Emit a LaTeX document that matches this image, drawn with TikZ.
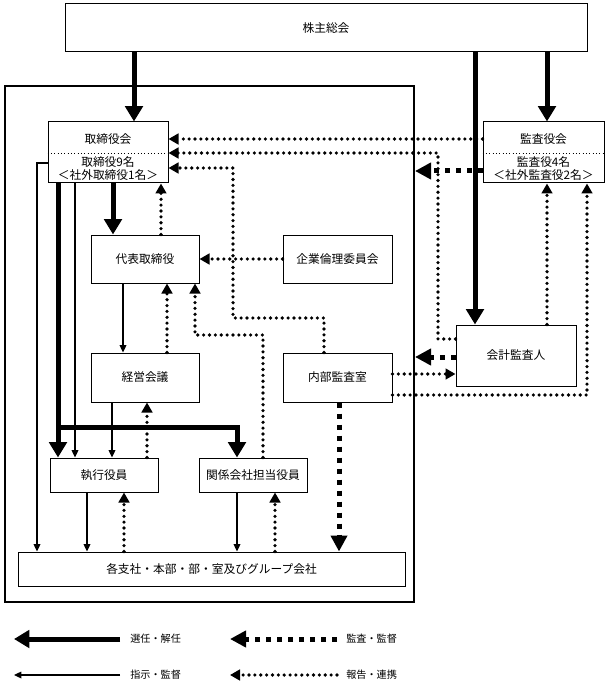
\documentclass[tikz,border=0pt]{standalone}
\usepackage{fontspec}
\newfontfamily\jpfont{Noto Sans CJK JP}
\usetikzlibrary{arrows.meta}
\tikzset{
  box/.style={draw, line width=0.75pt, fill=white, inner sep=0pt},
  size/.style 2 args={minimum width=#1*0.75pt, minimum height=#2*0.75pt},
  sennin/.style={line width=3.75pt, -{Triangle[length=11.5pt,width=13pt]}},
  shiji/.style={line width=0.9pt, -{Triangle[length=5.5pt,width=5pt]}},
  kansa/.style={line width=3.75pt, dash pattern=on 3.75pt off 4.5pt, -{Triangle[length=12pt,width=12pt]}},
  houkoku/.style={line width=2.7pt, line cap=round, dash pattern=on 0pt off 4.4pt, -{Triangle[length=7.5pt,width=8pt]}},
  lbl/.style={font=\jpfont\fontsize{7.6}{9}\selectfont, anchor=west, inner sep=0pt}
}
\begin{document}
\begin{tikzpicture}[x=0.75pt,y=-0.75pt,font=\jpfont\fontsize{8.8}{9.8}\selectfont]
\useasboundingbox (0,0) rectangle (611,695);
\node[draw, line width=1.5pt, inner sep=0pt, size={409}{516}] (waku) at (209.5,344) {};
\node[box, size={522}{48}] (soukai) at (326,28) {株主総会};
\node[box, size={120}{61}] (torishimari) at (108,152.5) {};
\node (torishimari-t) at (108,139) {取締役会};
\node[align=center] (torishimari-n) at (108,169) {取締役9名\\＜社外取締役1名＞};
\draw[dotted, line width=0.5pt] (torishimari.west |- 0,153) -- (torishimari.east |- 0,153);
\node[box, size={121}{61}] (kansayaku) at (543.5,152.5) {};
\node (kansayaku-t) at (543.5,139) {監査役会};
\node[align=center] (kansayaku-n) at (543.5,169) {監査役4名\\＜社外監査役2名＞};
\draw[dotted, line width=0.5pt] (kansayaku.west |- 0,153) -- (kansayaku.east |- 0,153);
\node[box, size={108}{48}] (daihyo) at (145,259) {代表取締役};
\node[box, size={109}{48}] (rinri) at (337.5,259) {企業倫理委員会};
\node[box, size={120}{61}] (kaikei) at (516,355.5) {会計監査人};
\node[box, size={108}{49}] (keiei) at (145,377.5) {経営会議};
\node[box, size={109}{49}] (naibu) at (337.5,377.5) {内部監査室};
\node[box, size={108}{34}] (shikko) at (104,475) {執行役員};
\node[box, size={108}{34}] (kankei) at (253,475) {関係会社担当役員};
\node[box, size={387}{34}] (shisha) at (211.5,569) {各支社・本部・部・室及びグループ会社};

\draw[sennin] (134,0 |- soukai.south) -- (134,0 |- torishimari.north);
\draw[sennin] (475,0 |- soukai.south) -- (475,0 |- kaikei.north);
\draw[sennin] (547,0 |- soukai.south) -- (547,0 |- kansayaku.north);
\draw[sennin] (113,0 |- torishimari.south) -- (113,0 |- daihyo.north);
\draw[sennin] (58,0 |- torishimari.south) -- (58,0 |- shikko.north);
\draw[sennin] (58,427) -- (237,427) -- (237,0 |- kankei.north);

\draw[shiji] (torishimari.west |- 0,163) -| (37,0 |- shisha.north);
\draw[shiji] (75,0 |- torishimari.south) -- (75,0 |- shikko.north);
\draw[shiji] (123,0 |- daihyo.south) -- (123,0 |- keiei.north);
\draw[shiji] (112,0 |- keiei.south) -- (112,0 |- shikko.north);
\draw[shiji] (87,0 |- shikko.south) -- (87,0 |- shisha.north);
\draw[shiji] (237,0 |- kankei.south) -- (237,0 |- shisha.north);

\draw[kansa] (kansayaku.west |- 0,171) -- (waku.east |- 0,171);
\draw[kansa] (kaikei.west |- 0,357) -- (waku.east |- 0,357);
\draw[kansa] (339,0 |- naibu.south) -- (339,0 |- shisha.north);

\draw[houkoku] (kansayaku.west |- 0,139) -- (torishimari.east |- 0,139);
\draw[houkoku] (kaikei.west |- 0,339) -- (438,339) -- (438,153) -- (torishimari.east |- 0,153);
\draw[houkoku] (324,0 |- naibu.north) -- (324,318) -- (233,318) -- (233,168) -- (torishimari.east |- 0,168);
\draw[houkoku] (161,0 |- daihyo.north) -- (161,0 |- torishimari.south);
\draw[houkoku] (rinri.west) -- (daihyo.east);
\draw[houkoku] (167,0 |- keiei.north) -- (167,0 |- daihyo.south);
\draw[houkoku] (263,0 |- kankei.north) -- (263,335) -- (195,335) -- (195,0 |- daihyo.south);
\draw[houkoku] (147,0 |- shikko.north) -- (147,0 |- keiei.south);
\draw[houkoku] (naibu.east |- 0,374) -- (kaikei.west |- 0,374);
\draw[houkoku] (547,0 |- kaikei.north) -- (547,0 |- kansayaku.south);
\draw[houkoku] (naibu.east |- 0,395) -- (587,395) -- (587,0 |- kansayaku.south);
\draw[houkoku] (124,0 |- shisha.north) -- (124,0 |- shikko.south);
\draw[houkoku] (275,0 |- shisha.north) -- (275,0 |- kankei.south);

\node[lbl] (l-sennin) at (130,639) {選任・解任};
\node[lbl] (l-kansa) at (346,639) {監査・監督};
\node[lbl] (l-shiji) at (130,675) {指示・監督};
\node[lbl] (l-houkoku) at (346,675) {報告・連携};
\coordinate (l-sennin-e) at (14,639);
\coordinate (l-kansa-e) at (230,639);
\coordinate (l-shiji-e) at (14,675);
\coordinate (l-houkoku-e) at (230,675);
\draw[sennin] ([xshift=-7.5pt]l-sennin.west) -- (l-sennin-e);
\draw[kansa] ([xshift=-6.75pt]l-kansa.west) -- (l-kansa-e);
\draw[shiji] ([xshift=-7.5pt]l-shiji.west) -- (l-shiji-e);
\draw[houkoku] ([xshift=-6.75pt]l-houkoku.west) -- (l-houkoku-e);
\end{tikzpicture}
\end{document}
